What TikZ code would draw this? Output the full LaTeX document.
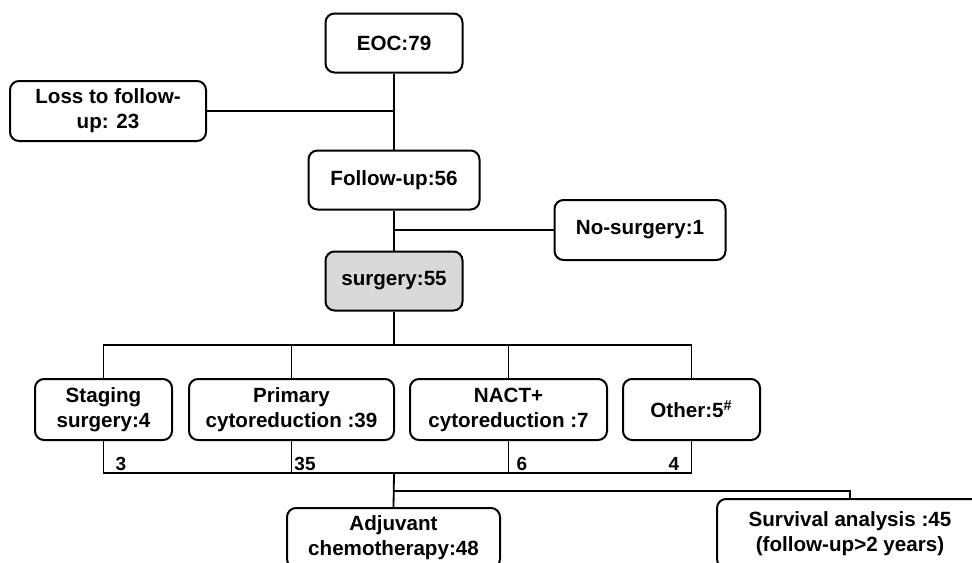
\documentclass[tikz,border=0pt]{standalone}
\usepackage{fontspec}
\setmainfont{Liberation Sans}
\definecolor{surggray}{HTML}{D9D9D9}

\begin{document}
\begin{tikzpicture}[
    x=0.5pt, y=-0.5pt,
    box/.style={draw, line width=1pt, rounded corners=4.5pt, align=center,
      inner sep=0pt, font=\bfseries\fontsize{10.3}{12.5}\selectfont},
    num/.style={inner sep=0pt, font=\bfseries\fontsize{9.5}{11}\selectfont},
    link/.style={line width=0.9pt},
  ]
  \path[use as bounding box, clip] (0,0) rectangle (972,562);
  % top part
  \node[box, minimum width=68.5pt, minimum height=29.5pt] (eoc) at (394,43) {EOC:79};
  \node[box, minimum width=98pt, minimum height=30pt] (loss) at (108,111) {Loss to follow-\\up: 23};
  \node[box, minimum width=85.5pt, minimum height=29.5pt] (fu) at (394,180) {Follow-up:56};
  \node[box, minimum width=85.5pt, minimum height=30pt] (nosurg) at (640,230) {No-surgery:1};
  \node[box, fill=surggray, minimum width=68.5pt, minimum height=29.5pt] (surg) at (394,281) {surgery:55};
  % kinds of surgery
  \node[box, minimum width=68.5pt, minimum height=30.5pt] (staging) at (103.5,409.5) {Staging\\surgery:4};
  \node[box, minimum width=102.5pt, minimum height=30.5pt] (primary) at (291.5,409.5) {Primary\\cytoreduction :39};
  \node[box, minimum width=98.5pt, minimum height=30.5pt] (nact) at (508.5,409.5) {NACT+\\cytoreduction :7};
  \node[box, minimum width=68.5pt, minimum height=30.5pt] (other) at (691.5,409.5) {Other:5\textsuperscript{\#}};
  % bottom part
  \node[box, minimum width=106.5pt, minimum height=30pt] (adjuvant) at (393.5,538) {Adjuvant\\chemotherapy:48};
  \node[box, minimum width=133pt, minimum height=34.5pt] (survival) at (850,533.5) {Survival analysis :45\\(follow-up>2 years)};

  \coordinate (split) at (394,345);
  \coordinate (merge) at (394,473);
  \coordinate (fork) at (394,491);

  \draw[link] (eoc.south) -- (fu.north);
  \draw[link] (loss.east) -- (loss.east -| eoc.south);
  \draw[link] (fu.south) -- (surg.north);
  \draw[link] (nosurg.west) -- (nosurg.west -| fu.south);
  \draw[link] (surg.south) -- (split);
  \draw[link] (staging.north) |- (split) -| (other.north);
  \draw[link] (primary.north) -- (primary.north |- split);
  \draw[link] (nact.north) -- (nact.north |- split);
  \draw[link] (staging.south) |- (merge) -| (other.south);
  \draw[link] (primary.south) -- (primary.south |- merge);
  \draw[link] (nact.south) -- (nact.south |- merge);
  \draw[link] (merge) -- (adjuvant.north);
  \draw[link] (fork) -| (survival.north);

  \node[num] (n3) at (121,464) {3};
  \node[num] (n35) at (305,464) {35};
  \node[num] (n6) at (522,464) {6};
  \node[num] (n4) at (674,464) {4};
\end{tikzpicture}
\end{document}
